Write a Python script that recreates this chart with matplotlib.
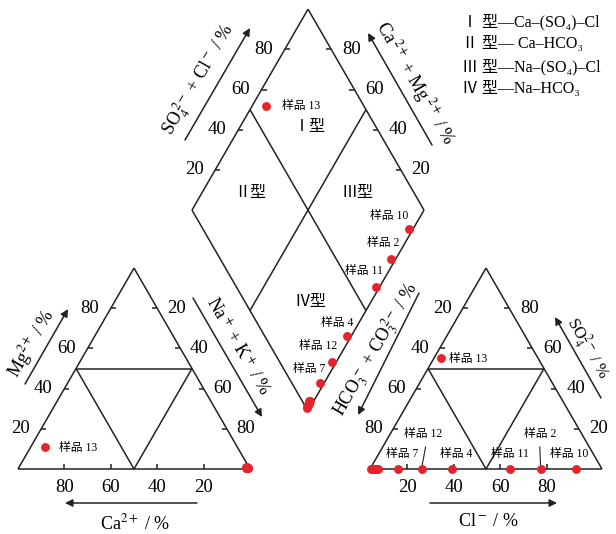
import numpy as np
import matplotlib.pyplot as plt

plt.rcParams['font.family'] = ['Liberation Serif', 'Noto Sans CJK SC', 'DejaVu Sans']
plt.rcParams['mathtext.fontset'] = 'stix'

# 水样离子组成 (meq %)
sample_no = [1, 2, 3, 4, 5, 6, 7, 8, 9, 10, 11, 12, 13]
ca = [1.0, 1.2, 0.8, 1.3, 1.0, 0.6, 1.2, 0.9, 1.1, 1.1, 1.0, 1.2, 83.0]
mg = [0.6, 0.8, 0.5, 0.6, 0.9, 0.5, 0.6, 0.7, 0.5, 0.6, 0.5, 0.6, 11.0]
na_k = [98.4, 98.0, 98.7, 98.1, 98.1, 98.9, 98.2, 98.4, 98.4, 98.3, 98.5, 98.2, 6.0]
hco3 = [99.0, 26.5, 98.0, 64.5, 97.0, 99.5, 88.0, 96.5, 98.5, 11.2, 39.8, 77.5, 42.0]
so4 = [0, 0, 0, 0, 0, 0, 0, 0, 0, 0, 0, 0, 55.0]
cl = [1.0, 73.5, 2.0, 35.5, 3.0, 0.5, 12.0, 3.5, 1.5, 88.8, 60.2, 22.5, 3.0]

ticks = [20, 40, 60, 80]
legend_lines = ['Ⅰ 型—Ca–(SO₄)–Cl', 'Ⅱ 型— Ca–HCO₃',
                'Ⅲ 型—Na–(SO₄)–Cl', 'Ⅳ 型—Na–HCO₃']

# 图形几何 (像素)
side = 232.0
hgt = side * np.sqrt(3) / 2
base_y = 469.0
left_x0 = 18.0
right_x0 = 370.0
dia_bx, dia_by = 308.0, 411.0
red = '#e4232b'
lc = '#222222'


def cation_xy(c, m, n):
    t = c + m + n
    return left_x0 + side * (n + m / 2) / t, base_y - hgt * m / t


def anion_xy(h, s, c):
    t = h + s + c
    return right_x0 + side * (c + s / 2) / t, base_y - hgt * s / t


def diamond_xy(a, c):
    return dia_bx + side / 2 * (a - c) / 100, dia_by - hgt * (a + c) / 100


def seg(p, q, **kw):
    ax.plot([p[0], q[0]], [p[1], q[1]], color=lc, lw=1.1, solid_capstyle='butt', **kw)


fig = plt.figure(figsize=(6.16, 5.34), dpi=100)
ax = fig.add_axes([0, 0, 1, 1])
ax.set_xlim(0, 616)
ax.set_ylim(534, 0)
ax.axis('off')

# 三角形与菱形框线
for f in (cation_xy, anion_xy):
    A, B, C = f(100, 0, 0), f(0, 0, 100), f(0, 100, 0)
    seg(A, B); seg(B, C); seg(C, A)
    m1, m2, m3 = f(50, 50, 0), f(0, 50, 50), f(50, 0, 50)
    seg(m1, m2); seg(m1, m3); seg(m2, m3)

d = [diamond_xy(0, 0), diamond_xy(100, 0), diamond_xy(100, 100), diamond_xy(0, 100)]
for i in range(4):
    seg(d[i], d[(i + 1) % 4])
seg(diamond_xy(50, 0), diamond_xy(50, 100))
seg(diamond_xy(0, 50), diamond_xy(100, 50))

# 刻度
tl = 5
fs_num = 13.5
for v in ticks:
    x, y = cation_xy(v, 0, 100 - v)
    seg((x, y), (x, y - tl)); ax.text(x, y + 18, str(v), ha='center', va='center', fontsize=fs_num)
    x, y = cation_xy(100 - v, v, 0)
    seg((x, y), (x + tl, y)); ax.text(x - 21, y, str(v), ha='center', va='center', fontsize=fs_num)
    x, y = cation_xy(0, 100 - v, v)
    seg((x, y), (x - tl, y)); ax.text(x + 19, y, str(v), ha='center', va='center', fontsize=fs_num)

    x, y = anion_xy(100 - v, 0, v)
    x -= 9
    seg((x, y), (x, y - tl)); ax.text(x, y + 18, str(v), ha='center', va='center', fontsize=fs_num)
    x, y = anion_xy(v, 100 - v, 0)
    seg((x, y), (x + tl, y)); ax.text(x - 20, y, str(v), ha='center', va='center', fontsize=fs_num)
    x, y = anion_xy(0, v, 100 - v)
    seg((x, y), (x - tl, y)); ax.text(x + 20, y, str(v), ha='center', va='center', fontsize=fs_num)

    x, y = diamond_xy(v, 100)
    seg((x, y), (x + tl, y)); ax.text(x - 21, y, str(v), ha='center', va='center', fontsize=fs_num)
    x, y = diamond_xy(100, v)
    seg((x, y), (x - tl, y)); ax.text(x + 20, y, str(v), ha='center', va='center', fontsize=fs_num)

# 坐标轴标题和箭头
arrows = [((197, 503), (65, 503)), ((25, 384), (68, 309)), ((193, 298), (262, 417)),
          ((430, 503), (557, 503)), ((419, 293), (358, 415)), ((601, 398), (555, 317)),
          ((185, 140), (250, 28)), ((432, 145), (368, 33))]
for s, e in arrows:
    ax.annotate('', xy=e, xytext=s,
                arrowprops=dict(arrowstyle='-|>', color=lc, lw=1.1, mutation_scale=11,
                                shrinkA=0, shrinkB=0))

fs_t = 13
ax.text(135, 523, r'Ca$^{2+}$ / %', ha='center', va='center', fontsize=fs_t)
ax.text(31, 344, r'Mg$^{2+}$ / %', ha='center', va='center', fontsize=fs_t, rotation=60)
ax.text(237, 347, r'Na$^+$ + K$^+$ / %', ha='center', va='center', fontsize=fs_t, rotation=-60)
ax.text(488, 522, r'Cl$^-$ / %', ha='center', va='center', fontsize=fs_t)
ax.text(376, 350, r'HCO$_3^{\;-}$ + CO$_3^{\;2-}$ / %', ha='center', va='center', fontsize=fs_t, rotation=60)
ax.text(588, 348, r'SO$_4^{2-}$ / %', ha='center', va='center', fontsize=12, rotation=-60)
ax.text(199, 80, r'SO$_4^{\;2-}$ + Cl$^-$ / %', ha='center', va='center', fontsize=fs_t, rotation=60)
ax.text(415, 83, r'Ca$^{\;2+}$ + Mg$^{\;2+}$ / %', ha='center', va='center', fontsize=fs_t, rotation=-60)

# 类型标注
for txt, (x, y) in zip(['Ⅰ型', 'Ⅱ型', 'Ⅲ型', 'Ⅳ型'], [(310, 127), (250, 193), (358, 193), (310, 302)]):
    ax.text(x, y, txt, ha='center', va='center', fontsize=11.5)

for i, t in enumerate(legend_lines):
    ax.text(462, 22 + i * 22.3, t, ha='left', va='center', fontsize=11.5)

# 样品点
ca_a, mg_a, na_a = np.array(ca), np.array(mg), np.array(na_k)
h_a, s_a, c_a = np.array(hco3), np.array(so4), np.array(cl)
cx, cy = cation_xy(ca_a, mg_a, na_a)
axx, axy = anion_xy(h_a, s_a, c_a)
tot_c = ca_a + mg_a + na_a
tot_a = h_a + s_a + c_a
dx, dy = diamond_xy((s_a + c_a) / tot_a * 100, (ca_a + mg_a) / tot_c * 100)
for xs, ys in ((cx, cy), (axx, axy), (dx, dy)):
    ax.plot(xs, ys, 'o', color=red, ms=6.4, mec='none', zorder=5)

# 样品标签 (偏移, 像素)
fs_s = 8.5
dia_lab = {10: (-1, -13, 'right'), 2: (8, -16, 'right'), 11: (7, -16, 'right'),
           4: (6, -13, 'right'), 12: (5, -16, 'right'), 7: (6, -14, 'right'),
           13: (16, 0, 'left')}
an_lab = {7: (4, -15, 'center'), 12: (1, -35, 'center'), 4: (4, -15, 'center'),
          11: (0, -15, 'center'), 2: (0, -35, 'center'), 10: (-7, -15, 'center'),
          13: (8, 1, 'left')}
cat_lab = {13: (14, 1, 'left')}
leader = {12: 3.4, 2: -0.7}

for i, n in enumerate(sample_no):
    name = f'样品 {n}'
    if n in dia_lab:
        ox, oy, ha = dia_lab[n]
        ax.text(dx[i] + ox, dy[i] + oy, name, ha=ha, va='center', fontsize=fs_s)
    if n in an_lab:
        ox, oy, ha = an_lab[n]
        ax.text(axx[i] + ox, axy[i] + oy, name, ha=ha, va='center', fontsize=fs_s)
        if n in leader:
            ax.plot([axx[i] + leader[n], axx[i]], [axy[i] - 22, axy[i] - 4], color=lc, lw=0.8)
    if n in cat_lab:
        ox, oy, ha = cat_lab[n]
        ax.text(cx[i] + ox, cy[i] + oy, name, ha=ha, va='center', fontsize=fs_s)

fig.savefig('out.png', dpi=100)
